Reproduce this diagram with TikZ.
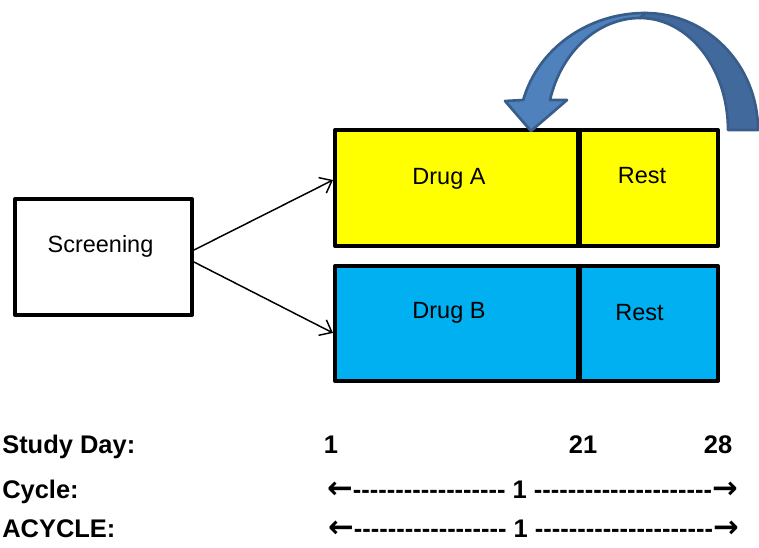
\documentclass[tikz,border=0pt]{standalone}
\usepackage{fontspec}
\setmainfont{Liberation Sans}
\newfontfamily\arrowfont{DejaVu Sans}
\usetikzlibrary{arrows.meta}

\definecolor{drugayellow}{HTML}{FFFF00}
\definecolor{drugbblue}{HTML}{00B0F0}
\definecolor{loopfront}{HTML}{4F81BD}
\definecolor{loopback}{HTML}{41699C}
\definecolor{loopedge}{HTML}{385D8A}

% a run of plain hyphens (kerns keep them from joining into dashes)
\newcommand\hyphenrun[1]{\foreach\k in {1,...,#1}{-\kern0pt}}
\newcommand\larr{{\arrowfont\bfseries\fontsize{23}{23}\selectfont ←}}
\newcommand\rarr{{\arrowfont\bfseries\fontsize{23}{23}\selectfont →}}

\begin{document}
\begin{tikzpicture}[x=0.75pt,y=-0.75pt,
  box/.style={draw=black, line width=3pt, line join=round, rectangle,
              inner sep=0pt, minimum height=87pt},
  lbl/.style={font=\fontsize{17.6}{20}\selectfont, anchor=base, inner sep=0pt},
  axis/.style={font=\bfseries\fontsize{19.1}{22}\selectfont, anchor=base west, inner sep=0pt},
  axisnum/.style={font=\bfseries\fontsize{19.1}{22}\selectfont, anchor=base, inner sep=0pt},
  conn/.style={line width=1.1pt, -{Straight Barb[length=8pt,width=13pt,line width=1.1pt]}},
  loop/.style={draw=loopedge, line width=2pt, line join=round},
]
\useasboundingbox (0,0) rectangle (759,547);

% screening box
\node[box, fill=white, minimum width=132.75pt] (scr) at (103.5,257) {};
\node[lbl] (scrtext) at (100.5,252.5) {Screening};

% treatment arms: drug period and rest period
\node[box, fill=drugayellow, minimum width=182.25pt] (drugA) at (456.5,188) {};
\node[box, fill=drugayellow, minimum width=105pt] (restA) at (648,188) {};
\node[box, fill=drugbblue, minimum width=182.25pt, minimum height=86.25pt] (drugB) at (456.5,323.5) {};
\node[box, fill=drugbblue, minimum width=105pt, minimum height=86.25pt] (restB) at (648,323.5) {};
\draw[line width=3pt] (drugA.north east) -- (drugA.south east);
\draw[line width=3pt] (drugB.north east) -- (drugB.south east);

\node[lbl] (drugAtext) at (449,184) {Drug A};
\node[lbl] (restAtext) at (642,183) {Rest};
\node[lbl] (drugBtext) at (449,318) {Drug B};
\node[lbl] (restBtext) at (639.5,320) {Rest};

% randomisation arrows
\draw[conn] ([yshift=5.25pt]scr.east) -- ([yshift=6pt]drugA.west);
\draw[conn] ([yshift=-3.75pt]scr.east) -- ([yshift=-7.1pt]drugB.west);

% curved repeat arrow: back face first, then the front face with its head
\fill[loopback, loop]
  (758,130) arc[start angle=0, end angle=-90, x radius=113, y radius=117]
  -- (640,18) arc[start angle=-90, end angle=0, x radius=88, y radius=112]
  -- cycle;
\fill[loopfront, loop]
  (645,13) arc[start angle=-90, end angle=-165.14, x radius=126, y radius=117]
  -- (505,101) -- (531,131) -- (567,100) -- (550,100)
  arc[start angle=-164.46, end angle=-90, x radius=93.4, y radius=112]
  -- cycle;

% timeline
\node[axis] (sdlabel) at (2,453) {Study Day:};
\node[axis] (cyclabel) at (2,498) {Cycle:};
\node[axis] (acyclabel) at (2,537) {ACYCLE:};

\node[axisnum] (day1) at (331,453) {1};
\node[axisnum] (day21) at (583,453) {21};
\node[axisnum] (day28) at (718,453) {28};

\node[axis] (cycspan) at (327,498) {\larr\hyphenrun{18} 1 \hyphenrun{21}\rarr};
\node[axis] (acycspan) at (328,537) {\larr\hyphenrun{18} 1 \hyphenrun{21}\rarr};
\end{tikzpicture}
\end{document}
